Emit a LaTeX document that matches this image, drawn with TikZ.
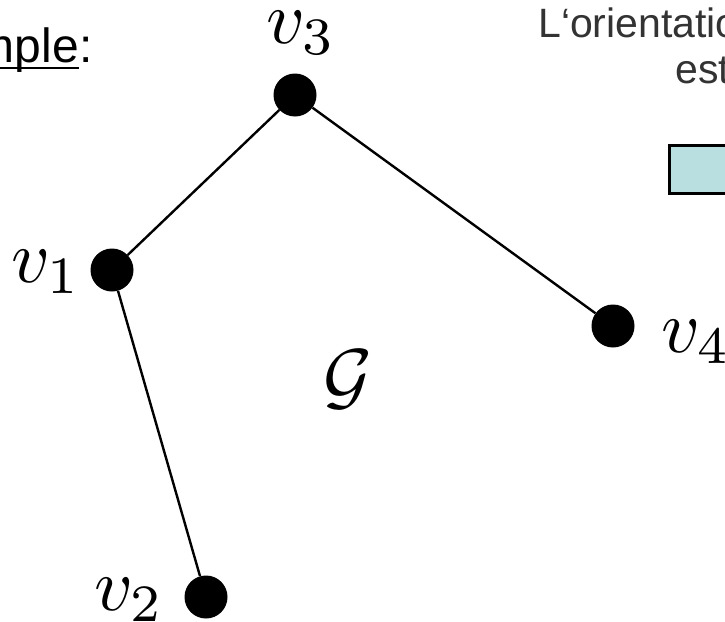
\documentclass[tikz,border=0pt]{standalone}
\usepackage[no-math]{fontspec}
\newfontfamily\arial{Liberation Sans}
\definecolor{boxfill}{HTML}{B9DFE1}
\definecolor{txtgray}{HTML}{333333}
\begin{document}
\begin{tikzpicture}[x=1pt,y=-1pt,
  vtx/.style={circle,fill=black,minimum size=43pt,inner sep=0pt},
  lbl/.style={scale=7.5,inner sep=0pt,anchor=base west},
  edge/.style={line width=2.4pt},
  rtext/.style={anchor=base west,inner sep=0pt,text=txtgray,font=\arial\fontsize{41}{48}\selectfont},
  ltext/.style={inner sep=0pt,font=\arial\fontsize{48}{52}\selectfont}]
\useasboundingbox (0,0) rectangle (725,621);
\clip (0,0) rectangle (725,621);
% vertices
\node[vtx] (v3) at (295,95) {};
\node[vtx] (v1) at (112,270) {};
\node[vtx] (v4) at (613,326) {};
\node[vtx] (v2) at (206,597) {};
% edges
\draw[edge] (v3) -- (v1);
\draw[edge] (v3) -- (v4);
\draw[edge] (v1) -- (v2);
% labels
\node[lbl] (l3) at (265,43) {$v_3$};
\node[lbl] (l1) at (10,282) {$v_1$};
\node[lbl] (l4) at (660,352) {$v_4$};
\node[lbl] (l2) at (93,610) {$v_2$};
\node[scale=7.5,inner sep=0pt] (G) at (348,380) {$\mathcal{G}$};
% left title
\node[ltext,anchor=base east] (ex) at (79,62) {Exemple};
\node[ltext,anchor=base west] (colon) at (ex.base east) {:};
\coordinate (u) at (0,68);
\draw[line width=2.6pt] (ex.west |- u) -- (ex.east |- u);
% right text
\node[rtext] (t1) at (538,37) {L‘orientation};
\node[rtext] (t2) at (675,83) {est};
% box
\node[draw,line width=3pt,fill=boxfill,anchor=north west,minimum width=120pt,minimum height=48pt,inner sep=0pt] (box) at (667.5,143.5) {};
\end{tikzpicture}
\end{document}
